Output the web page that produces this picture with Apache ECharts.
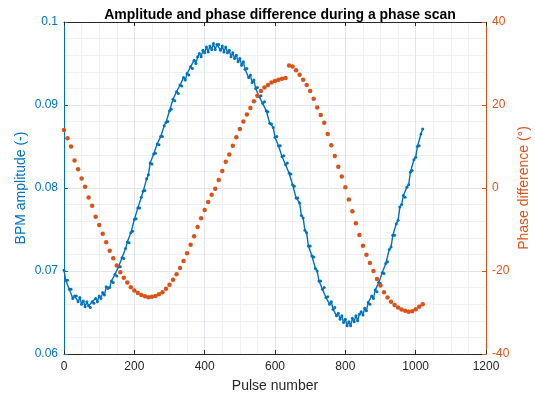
<!DOCTYPE html>
<html>
<head>
<meta charset="utf-8">
<script src="https://cdn.jsdelivr.net/npm/echarts@6/dist/echarts.min.js"></script>
<style>
  html, body { margin: 0; padding: 0; background: #fff; }
  #chart { width: 535px; height: 395px; }
</style>
</head>
<body>
<div id="chart"></div>
<script>
// pulse spacing of the two traces
const ampStep = 5;
const phaseStep = 10;

// BPM amplitude (-), one value every 5 pulses from 0 to 1020
const amplitude = [
  0.0701, 0.0689, 0.0689, 0.0678, 0.0678, 0.0667, 0.0670, 0.0670, 0.0663, 0.0668,
  0.0660, 0.0664, 0.0657, 0.0663, 0.0658, 0.0656, 0.0663, 0.0661, 0.0667, 0.0663,
  0.0670, 0.0667, 0.0674, 0.0671, 0.0681, 0.0679, 0.0680, 0.0688, 0.0686, 0.0696,
  0.0694, 0.0705, 0.0705, 0.0716, 0.0715, 0.0727, 0.0735, 0.0734, 0.0746, 0.0748,
  0.0762, 0.0763, 0.0776, 0.0776, 0.0789, 0.0796, 0.0797, 0.0811, 0.0816, 0.0830,
  0.0829, 0.0841, 0.0842, 0.0853, 0.0852, 0.0862, 0.0862, 0.0875, 0.0879, 0.0880,
  0.0893, 0.0895, 0.0907, 0.0905, 0.0916, 0.0914, 0.0924, 0.0923, 0.0933, 0.0930,
  0.0938, 0.0936, 0.0946, 0.0944, 0.0954, 0.0950, 0.0958, 0.0962, 0.0958, 0.0966,
  0.0963, 0.0970, 0.0964, 0.0971, 0.0967, 0.0974, 0.0967, 0.0973, 0.0973, 0.0966,
  0.0971, 0.0964, 0.0970, 0.0963, 0.0966, 0.0958, 0.0963, 0.0956, 0.0960, 0.0952,
  0.0956, 0.0948, 0.0952, 0.0943, 0.0944, 0.0933, 0.0936, 0.0927, 0.0930, 0.0920,
  0.0921, 0.0910, 0.0911, 0.0902, 0.0904, 0.0893, 0.0892, 0.0878, 0.0877, 0.0873,
  0.0861, 0.0862, 0.0851, 0.0851, 0.0838, 0.0839, 0.0828, 0.0830, 0.0818, 0.0817,
  0.0804, 0.0802, 0.0788, 0.0788, 0.0782, 0.0767, 0.0764, 0.0749, 0.0746, 0.0730,
  0.0730, 0.0718, 0.0717, 0.0703, 0.0700, 0.0688, 0.0688, 0.0678, 0.0680, 0.0668,
  0.0669, 0.0660, 0.0663, 0.0654, 0.0656, 0.0646, 0.0649, 0.0642, 0.0646, 0.0638,
  0.0642, 0.0634, 0.0639, 0.0634, 0.0643, 0.0639, 0.0646, 0.0640, 0.0648, 0.0651,
  0.0647, 0.0655, 0.0652, 0.0662, 0.0660, 0.0670, 0.0667, 0.0677, 0.0675, 0.0686,
  0.0685, 0.0698, 0.0697, 0.0709, 0.0711, 0.0726, 0.0729, 0.0743, 0.0743, 0.0757,
  0.0761, 0.0777, 0.0780, 0.0791, 0.0789, 0.0801, 0.0804, 0.0819, 0.0821, 0.0834,
  0.0837, 0.0850, 0.0851, 0.0865, 0.0871
];

// phase difference (deg), one value every 10 pulses from 0 to 1020
const phase = [
  14.0, 12.0, 10.0, 6.6, 4.5, 2.3, 0.3, -2.3, -4.3, -6.9,
  -8.9, -11.0, -13.1, -15.1, -16.9, -18.7, -20.3, -21.6, -22.8, -23.9,
  -24.7, -25.3, -25.8, -26.1, -26.3, -26.2, -26.0, -25.6, -25.1, -24.3,
  -23.3, -22.1, -20.8, -19.3, -17.6, -15.7, -13.7, -11.6, -9.4, -7.3,
  -5.3, -3.4, -1.6, -0.2, 1.9, 4.1, 6.3, 8.1, 10.2, 12.2,
  14.2, 16.0, 17.7, 19.3, 20.9, 22.2, 23.4, 24.2, 24.8, 25.4,
  25.8, 26.1, 26.3, 26.5, 29.5, 29.3, 28.4, 27.3, 26.1, 24.8,
  23.4, 21.5, 19.4, 17.6, 15.7, 13.0, 10.3, 7.7, 5.1, 2.8,
  0.2, -2.8, -5.6, -8.5, -11.3, -13.9, -16.1, -18.1, -20.0, -21.9,
  -23.5, -25.1, -26.4, -27.4, -28.2, -28.8, -29.3, -29.6, -29.8, -29.7,
  -29.2, -28.6, -28.0
];

const blue = '#0072BD';
const orange = '#D95319';
const dark = '#262626';
const font = 'Liberation Sans, Arial, Helvetica, sans-serif';

const ampData = amplitude.map((v, i) => [i * ampStep, v]);
const phaseData = phase.map((v, i) => [i * phaseStep, v]);

const chart = echarts.init(document.getElementById('chart'));

const option = {
  animation: false,
  title: {
    text: 'Amplitude and phase difference during a phase scan',
    left: 275,
    textAlign: 'center',
    top: 3,
    textStyle: { fontFamily: font, fontSize: 14, fontWeight: 'bold', color: '#000' }
  },
  grid: { left: 64, right: 49, top: 22, bottom: 41, containLabel: false, outerBoundsMode: 'none' },
  xAxis: [
    {
      type: 'value',
      min: 0,
      max: 1200,
      interval: 200,
      name: 'Pulse number',
      nameLocation: 'middle',
      nameGap: 25,
      nameTextStyle: { fontFamily: font, fontSize: 14, color: dark },
      axisLine: { onZero: false, lineStyle: { color: dark, width: 1 } },
      axisTick: { inside: true, length: 4, lineStyle: { color: dark } },
      axisLabel: { fontFamily: font, fontSize: 12, color: dark, margin: 7, formatter: v => String(v) },
      splitLine: { show: true, lineStyle: { color: '#e0e5eb', width: 1 } },
      minorTick: { show: false, splitNumber: 4 },
      minorSplitLine: { show: true, lineStyle: { color: '#edf0f4', width: 1 } }
    },
    {
      type: 'value',
      position: 'top',
      min: 0,
      max: 1200,
      interval: 200,
      axisLine: { onZero: false, lineStyle: { color: dark, width: 1 } },
      axisTick: { inside: true, length: 4, lineStyle: { color: dark } },
      axisLabel: { show: false },
      splitLine: { show: false }
    }
  ],
  yAxis: [
    {
      type: 'value',
      min: 0.06,
      max: 0.1,
      interval: 0.01,
      name: 'BPM amplitude (-)',
      nameLocation: 'middle',
      nameGap: 36,
      nameMoveOverlap: false,
      nameTextStyle: { fontFamily: font, fontSize: 14, color: blue },
      axisLine: { show: true, onZero: false, lineStyle: { color: blue, width: 1 } },
      axisTick: { show: true, inside: true, length: 4, lineStyle: { color: blue } },
      axisLabel: { fontFamily: font, fontSize: 12, color: blue, margin: 6 },
      splitLine: { show: true, lineStyle: { color: '#e0e5eb', width: 1 } },
      minorTick: { show: false, splitNumber: 5 },
      minorSplitLine: { show: true, lineStyle: { color: '#edf0f4', width: 1 } }
    },
    {
      type: 'value',
      min: -40,
      max: 40,
      interval: 20,
      position: 'right',
      name: 'Phase difference (°)',
      nameLocation: 'middle',
      nameGap: 31,
      nameMoveOverlap: false,
      nameTextStyle: { fontFamily: font, fontSize: 14, color: orange },
      axisLine: { show: true, onZero: false, lineStyle: { color: orange, width: 1 } },
      axisTick: { show: true, inside: true, length: 4, lineStyle: { color: orange } },
      axisLabel: { fontFamily: font, fontSize: 12, color: orange, margin: 6 },
      splitLine: { show: false }
    }
  ],
  series: [
    {
      name: 'BPM amplitude',
      type: 'line',
      xAxisIndex: 0,
      yAxisIndex: 0,
      data: ampData,
      showSymbol: true,
      showAllSymbol: true,
      symbol: 'circle',
      symbolSize: 3,
      itemStyle: { color: blue },
      lineStyle: { color: blue, width: 1.4 },
      z: 3
    },
    {
      name: 'Phase difference',
      type: 'scatter',
      xAxisIndex: 0,
      yAxisIndex: 1,
      data: phaseData,
      symbol: 'circle',
      symbolSize: 4.5,
      itemStyle: { color: orange, opacity: 1 },
      z: 4
    }
  ]
};

chart.setOption(option);
</script>
</body>
</html>
